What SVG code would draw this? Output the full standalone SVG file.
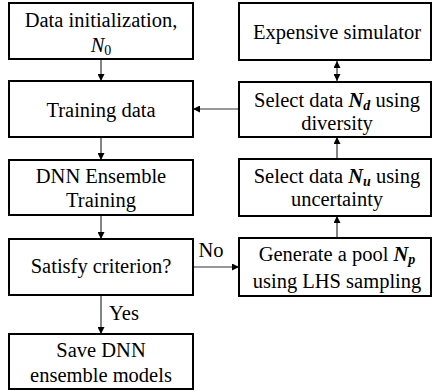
<svg xmlns="http://www.w3.org/2000/svg" width="432" height="391" viewBox="0 0 432 391" font-family="'Liberation Serif', 'DejaVu Serif', serif">
  <defs>
    <marker id="arrow" viewBox="0 0 10 10" refX="10" refY="5" markerWidth="7" markerHeight="7" markerUnits="userSpaceOnUse" orient="auto-start-reverse">
      <path d="M0,0 L10,5 L0,10 z" fill="#000"/>
    </marker>
    <style>
      .box { fill: #fff; stroke: #000; stroke-width: 2; }
      text { font-family: 'Liberation Serif', 'DejaVu Serif', serif; font-size: 20.5px; fill: #000; text-anchor: middle; }
      .m { font-style: italic; }
      .mb { font-style: italic; font-weight: bold; }
      .sub { font-size: 14px; }
      .edge { stroke: #333; stroke-width: 1.2; fill: none; marker-end: url(#arrow); }
      .edge2 { stroke: #333; stroke-width: 1.2; fill: none; marker-end: url(#arrow); marker-start: url(#arrow); }
    </style>
  </defs>
  <rect width="432" height="391" fill="#fff"/>

  <!-- connectors -->
  <g id="connectors">
    <line class="edge" x1="101" y1="59" x2="101" y2="81"/>
    <line class="edge" x1="101" y1="137" x2="101" y2="160"/>
    <line class="edge" x1="101" y1="215" x2="101" y2="239"/>
    <line class="edge" x1="101" y1="295" x2="101" y2="334"/>
    <line class="edge" x1="193" y1="267" x2="239" y2="267"/>
    <line class="edge" x1="337" y1="238" x2="337" y2="216"/>
    <line class="edge" x1="337" y1="159" x2="337" y2="137"/>
    <line class="edge2" x1="337" y1="61" x2="337" y2="81"/>
    <line class="edge" x1="239" y1="109" x2="193" y2="109"/>
    <text x="211" y="257">No</text>
    <text x="124" y="320">Yes</text>
  </g>

  <!-- left column -->
  <g id="init">
    <rect class="box" x="9" y="3" width="184" height="56"/>
    <text x="101" y="27">Data initialization,</text>
    <text x="101" y="52"><tspan class="m">N</tspan><tspan class="sub" dy="3">0</tspan></text>
  </g>
  <g id="training-data">
    <rect class="box" x="9" y="81" width="184" height="56"/>
    <text x="101" y="117">Training data</text>
  </g>
  <g id="ensemble-training">
    <rect class="box" x="9" y="160" width="184" height="55"/>
    <text x="101" y="183">DNN Ensemble</text>
    <text x="101" y="207">Training</text>
  </g>
  <g id="criterion">
    <rect class="box" x="9" y="239" width="184" height="56"/>
    <text x="101" y="273">Satisfy criterion?</text>
  </g>
  <g id="save-models">
    <rect class="box" x="9" y="334" width="184" height="55"/>
    <text x="101" y="357">Save DNN</text>
    <text x="101" y="382">ensemble models</text>
  </g>

  <!-- right column -->
  <g id="simulator">
    <rect class="box" x="239" y="3" width="192" height="57"/>
    <text x="337" y="39">Expensive simulator</text>
  </g>
  <g id="select-diversity">
    <rect class="box" x="239" y="82" width="192" height="55"/>
    <text x="337" y="107">Select data <tspan class="mb">N</tspan><tspan class="mb sub" dy="3">d</tspan><tspan dy="-3"> using</tspan></text>
    <text x="337" y="130">diversity</text>
  </g>
  <g id="select-uncertainty">
    <rect class="box" x="239" y="159" width="192" height="57"/>
    <text x="337" y="183">Select data <tspan class="mb">N</tspan><tspan class="mb sub" dy="3">u</tspan><tspan dy="-3"> using</tspan></text>
    <text x="337" y="206">uncertainty</text>
  </g>
  <g id="lhs-pool">
    <rect class="box" x="239" y="238" width="192" height="58"/>
    <text x="337" y="261">Generate a pool <tspan class="mb">N</tspan><tspan class="mb sub" dy="3">p</tspan></text>
    <text x="337" y="288">using LHS sampling</text>
  </g>
</svg>
